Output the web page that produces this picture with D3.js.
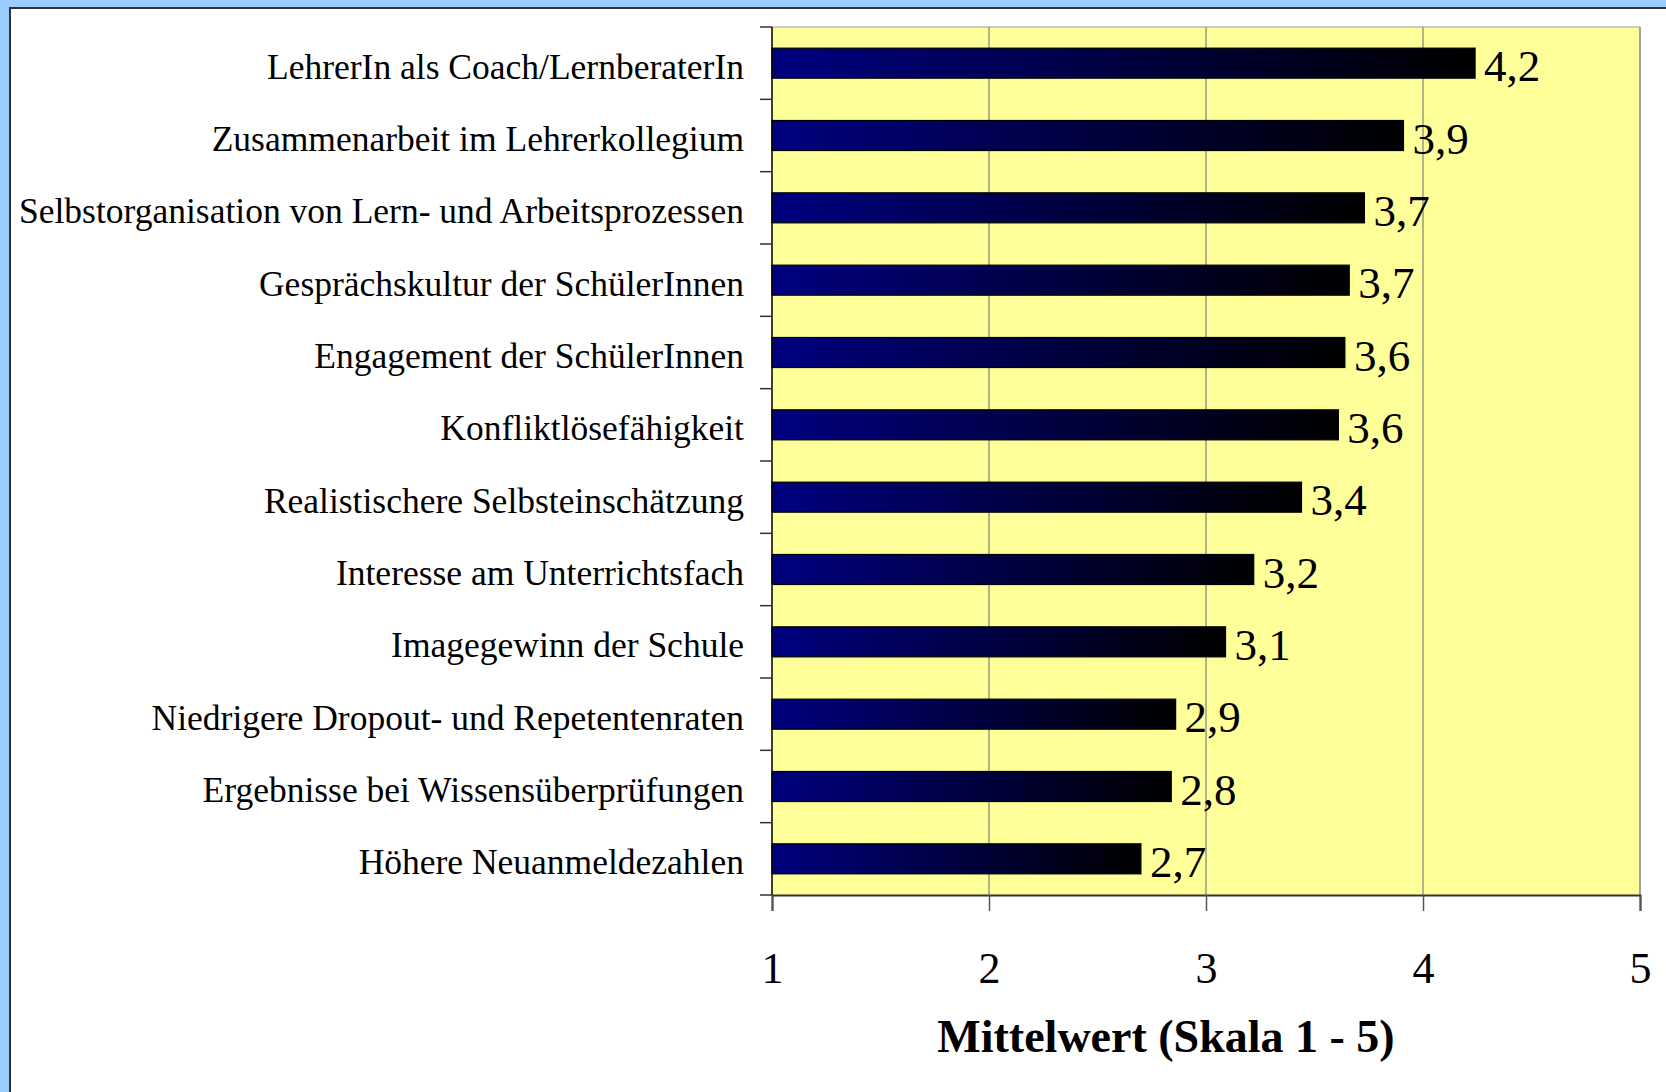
<!DOCTYPE html>
<html>
<head>
<meta charset="utf-8">
<script src="https://cdn.jsdelivr.net/npm/d3@7"></script>
<style>
  html, body { margin: 0; padding: 0; background: #99CCFF; }
  svg { display: block; }
</style>
</head>
<body>
<script>
const categories = [
  "LehrerIn als Coach/LernberaterIn",
  "Zusammenarbeit im Lehrerkollegium",
  "Selbstorganisation von Lern- und Arbeitsprozessen",
  "Gesprächskultur der SchülerInnen",
  "Engagement der SchülerInnen",
  "Konfliktlösefähigkeit",
  "Realistischere Selbsteinschätzung",
  "Interesse am Unterrichtsfach",
  "Imagegewinn der Schule",
  "Niedrigere Dropout- und Repetentenraten",
  "Ergebnisse bei Wissensüberprüfungen",
  "Höhere Neuanmeldezahlen"
];
const values = [4.24, 3.91, 3.73, 3.66, 3.64, 3.61, 3.44, 3.22, 3.09, 2.86, 2.84, 2.70];
const xTicks = [1, 2, 3, 4, 5];
const xTitle = "Mittelwert (Skala 1 - 5)";

(function () {
const W = 1666, H = 1092;
const svg = d3.select("body").append("svg").attr("width", W).attr("height", H);

const defs = svg.append("defs");
const grad = defs.append("linearGradient").attr("id", "barGrad")
  .attr("x1", "0%").attr("x2", "100%").attr("y1", "0%").attr("y2", "0%");
grad.append("stop").attr("offset", "0%").attr("stop-color", "#000080");
grad.append("stop").attr("offset", "100%").attr("stop-color", "#000000");

svg.append("rect").attr("x", 0).attr("y", 0).attr("width", W).attr("height", H).attr("fill", "#99CCFF");
svg.append("rect").attr("x", 10).attr("y", 8).attr("width", W + 20).attr("height", H + 20)
  .attr("fill", "#ffffff").attr("stroke", "#333333").attr("stroke-width", 2);

const pL = 772, pR = 1640, pT = 27, pB = 895;
const serif = "'Liberation Serif', 'Times New Roman', serif";

const x = d3.scaleLinear().domain([1, 5]).range([pL, pR]);
const y = d3.scaleBand().domain(categories).range([pT, pB])
  .paddingInner(0.585).paddingOuter(0.2925);

svg.append("rect").attr("x", pL).attr("y", pT).attr("width", pR - pL).attr("height", pB - pT)
  .attr("fill", "#FFFF99");

svg.append("g").selectAll("line").data(xTicks.slice(1)).join("line")
  .attr("x1", d => x(d)).attr("x2", d => x(d))
  .attr("y1", pT).attr("y2", pB)
  .attr("stroke", d => d === 5 ? "#a0a0a0" : "#808080").attr("stroke-width", d => d === 5 ? 2 : 1.2);
svg.append("line").attr("x1", pL).attr("x2", pR).attr("y1", pT).attr("y2", pT)
  .attr("stroke", "#a0a0a0").attr("stroke-width", 1.2);

svg.append("g").selectAll("rect").data(categories).join("rect")
  .attr("x", x(1))
  .attr("y", d => y(d))
  .attr("width", (d, i) => x(values[i]) - x(1))
  .attr("height", y.bandwidth())
  .attr("fill", "url(#barGrad)")
  .attr("stroke", "#000000").attr("stroke-width", 1.2);

const fmt = v => d3.format(".1f")(v).replace(".", ",");
svg.append("g").selectAll("text").data(categories).join("text")
  .attr("x", (d, i) => x(values[i]) + 9)
  .attr("y", d => y(d) + y.bandwidth() / 2 + 18)
  .attr("font-family", serif)
  .attr("font-size", 45)
  .attr("fill", "#000")
  .text((d, i) => fmt(values[i]));

svg.append("line").attr("x1", pL).attr("x2", pL).attr("y1", pT).attr("y2", pB)
  .attr("stroke", "#000").attr("stroke-width", 1.5);
const bounds = d3.range(categories.length + 1).map(i => pT + i * y.step());
svg.append("g").selectAll("line").data(bounds).join("line")
  .attr("x1", pL - 12).attr("x2", pL).attr("y1", d => d).attr("y2", d => d)
  .attr("stroke", "#333").attr("stroke-width", 1.5);

svg.append("g").selectAll("text").data(categories).join("text")
  .attr("x", 744)
  .attr("y", d => y(d) + y.bandwidth() / 2 + 15.5)
  .attr("text-anchor", "end")
  .attr("font-family", serif)
  .attr("font-size", 35.5)
  .attr("fill", "#000")
  .text(d => d);

const xAxis = d3.axisBottom(x).tickValues(xTicks).tickSize(16).tickFormat(d3.format("d"));
const gx = svg.append("g").attr("transform", `translate(0,${pB})`).call(xAxis);
gx.select(".domain").attr("stroke", "#333").attr("stroke-width", 2);
gx.selectAll(".tick line").attr("stroke", "#555").attr("stroke-width", 1.5);
gx.selectAll(".tick text")
  .attr("y", 88).attr("dy", 0)
  .attr("font-family", serif)
  .attr("font-size", 44).attr("fill", "#000");

svg.append("text")
  .attr("x", 1166).attr("y", 1052)
  .attr("text-anchor", "middle")
  .attr("font-family", serif)
  .attr("font-weight", "bold")
  .attr("font-size", 46)
  .attr("fill", "#000")
  .text(xTitle);
})();
</script>
</body>
</html>
